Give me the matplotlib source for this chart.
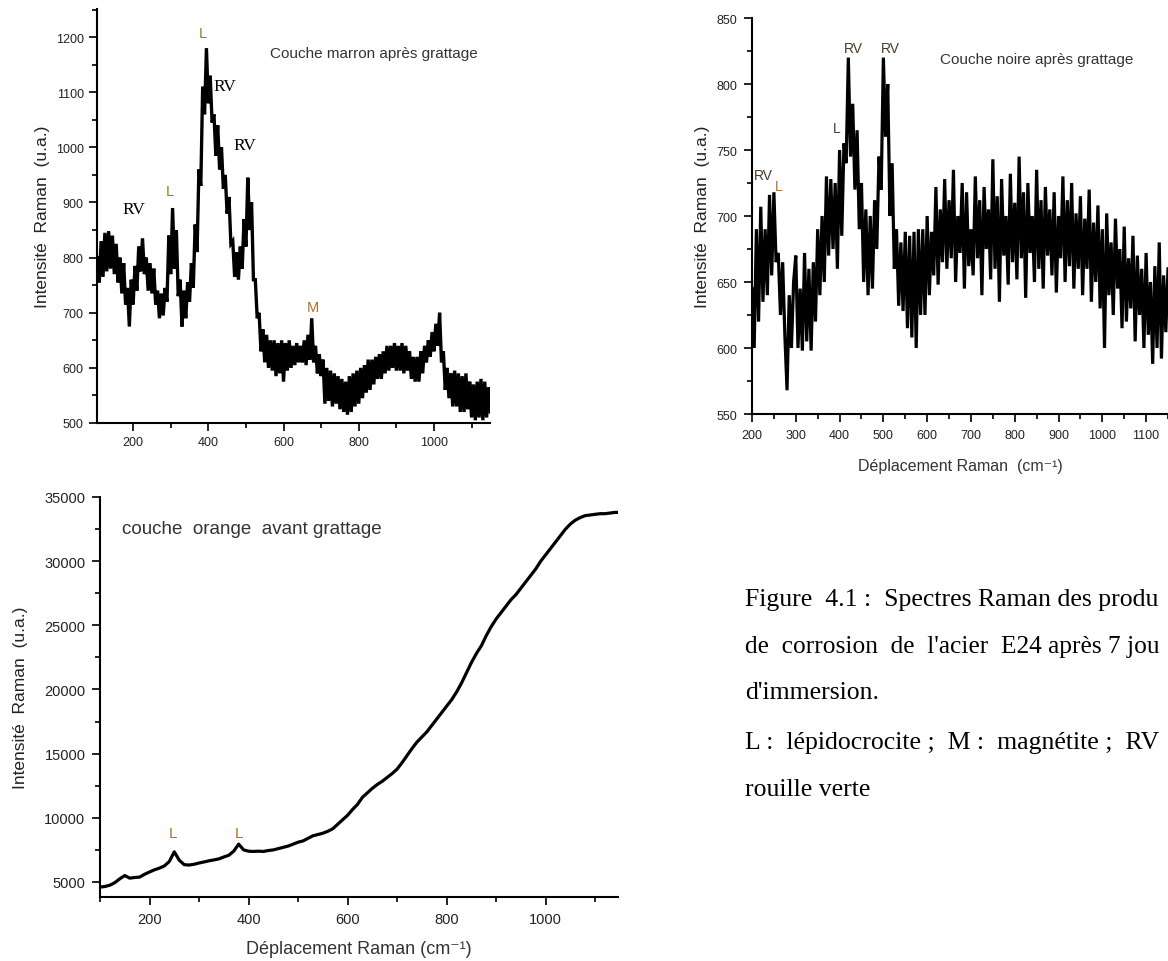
import numpy as np
import matplotlib
matplotlib.use("Agg")
import matplotlib.pyplot as plt
from matplotlib.ticker import MultipleLocator

plt.rcParams['font.family'] = ['Liberation Sans', 'DejaVu Sans']

# ---------------- data ----------------
# Panel A: Couche marron après grattage (x = 105..1150 step 5)
shift_a = np.arange(105, 1151, 5)
int_a = [
    800, 755, 830, 765, 845, 775, 848, 780, 840, 770,
    825, 755, 800, 735, 790, 715, 745, 675, 760, 715,
    785, 740, 820, 775, 835, 770, 800, 740, 790, 735,
    780, 715, 740, 690, 735, 695, 745, 720, 840, 770,
    890, 780, 850, 730, 760, 675, 740, 690, 755, 720,
    790, 745, 860, 810, 960, 930, 1110, 1060, 1180, 1080,
    1130, 1045, 1060, 985, 1040, 960, 1000, 925, 950, 880,
    910, 825, 830, 765, 810, 760, 820, 780, 870, 820,
    945, 850, 900, 760, 760, 690, 700, 630, 670, 610,
    660, 600, 650, 595, 650, 585, 645, 590, 650, 575,
    645, 595, 650, 600, 640, 605, 645, 610, 640, 610,
    650, 605, 660, 615, 690, 610, 640, 590, 625, 585,
    615, 535, 600, 540, 595, 530, 590, 535, 585, 525,
    580, 520, 575, 515, 585, 520, 590, 530, 595, 535,
    600, 545, 605, 555, 615, 560, 615, 570, 620, 580,
    625, 580, 630, 590, 640, 595, 640, 600, 645, 595,
    640, 595, 645, 590, 640, 595, 630, 580, 620, 575,
    620, 575, 630, 590, 640, 610, 650, 620, 665, 630,
    680, 640, 700, 610, 630, 560, 600, 545, 590, 530,
    595, 530, 590, 520, 585, 520, 590, 525, 575, 510,
    570, 505, 575, 510, 580, 505, 575, 510, 565, 520,
]

# Panel B: Couche noire après grattage (x = 200..1150 step 5)
shift_b = np.arange(200, 1151, 5)
int_b = [
    645, 600, 690, 620, 707, 635, 690, 640, 716, 655,
    718, 665, 672, 625, 665, 610, 568, 640, 600, 650,
    670, 600, 645, 598, 672, 605, 660, 598, 665, 620,
    690, 640, 700, 650, 730, 670, 728, 675, 725, 660,
    750, 685, 755, 740, 820, 745, 785, 720, 765, 690,
    725, 650, 705, 640, 700, 645, 712, 675, 745, 720,
    820, 760, 800, 700, 740, 660, 690, 632, 680, 628,
    688, 615, 685, 608, 688, 600, 690, 625, 690, 625,
    700, 640, 688, 655, 722, 648, 705, 665, 728, 660,
    712, 668, 735, 650, 700, 672, 725, 645, 718, 662,
    690, 655, 730, 668, 712, 640, 722, 675, 705, 652,
    743, 660, 715, 635, 728, 670, 700, 648, 732, 665,
    710, 652, 745, 668, 718, 638, 725, 672, 700, 650,
    735, 660, 712, 645, 722, 670, 705, 655, 718, 642,
    700, 668, 730, 650, 712, 662, 725, 645, 702, 660,
    715, 640, 698, 660, 720, 635, 695, 650, 708, 630,
    690, 600, 702, 640, 680, 625, 698, 645, 675, 615,
    692, 620, 668, 630, 685, 605, 670, 625, 660, 600,
    672, 610, 650, 588, 662, 600, 680, 592, 655, 612,
    660,
]

# Panel C: couche orange avant grattage (x = 100..1150 step 10)
shift_c = np.arange(100, 1151, 10)
int_c = [
    4600, 4650, 4750, 4950, 5250, 5500, 5300, 5350, 5380, 5600,
    5780, 5950, 6080, 6250, 6600, 7350, 6700, 6350, 6320, 6380,
    6480, 6560, 6650, 6720, 6800, 6950, 7080, 7400, 7950, 7500,
    7400, 7380, 7400, 7380, 7450, 7500, 7600, 7700, 7800, 7950,
    8100, 8200, 8400, 8600, 8700, 8800, 8950, 9150, 9500, 9850,
    10200, 10650, 11050, 11600, 11950, 12300, 12600, 12850, 13150, 13450,
    13800, 14300, 14850, 15400, 15900, 16300, 16700, 17200, 17700, 18200,
    18700, 19200, 19800, 20500, 21300, 22100, 22800, 23400, 24200, 24900,
    25500, 26000, 26500, 27000, 27400, 27900, 28400, 28900, 29400, 30000,
    30500, 31000, 31500, 32000, 32500, 32900, 33200, 33400, 33550, 33600,
    33650, 33700, 33700, 33750, 33800, 33800,
]

# annotations: (text, x, y)
labels_a_orig = [("L", 386, 1207), ("L", 298, 920), ("M", 679, 710)]
labels_a_rv = [("RV", 445, 1111), ("RV", 498, 1004), ("RV", 203, 888)]
labels_b = [("RV", 431, 827), ("RV", 517, 827), ("L", 394, 767), ("RV", 227, 731)]
labels_b_sub = [("L", 262, 723)]
labels_c = [("L", 247, 8830), ("L", 381, 8830)]

# caption as visible in the reference (the page is cut at the right edge)
caption = [
    "Figure  4.1 :  Spectres Raman des produ",
    "de  corrosion  de  l'acier  E24 après 7 jou",
    "d'immersion.",
    "L :  lépidocrocite ;  M :  magnétite ;  RV",
    "rouille verte",
]

# ---------------- figure ----------------
W, H = 1168, 962
fig = plt.figure(figsize=(W / 100, H / 100), dpi=100)


def ax_px(x0, y0, x1, y1):
    return fig.add_axes([x0 / W, 1 - y1 / H, (x1 - x0) / W, (y1 - y0) / H])


def style(ax, tsize, pad):
    for s in ("top", "right"):
        ax.spines[s].set_visible(False)
    for s in ("left", "bottom"):
        ax.spines[s].set_linewidth(1.5)
    ax.tick_params(which="major", direction="out", length=5.5, width=1.3,
                   labelsize=tsize, pad=pad, colors="#111111", labelcolor="#222222")
    ax.tick_params(which="minor", direction="out", length=3.5, width=1.3, colors="#111111")


lab_col = "#b0702a"

# Panel A
axA = ax_px(97, 10, 490, 424)
axA.plot(shift_a, int_a, color="black", lw=2.4, solid_joinstyle="miter")
axA.set_xlim(104, 1149)
axA.set_ylim(500, 1251)
axA.xaxis.set_major_locator(MultipleLocator(200))
axA.xaxis.set_minor_locator(MultipleLocator(100))
axA.yaxis.set_major_locator(MultipleLocator(100))
axA.yaxis.set_minor_locator(MultipleLocator(50))
style(axA, 9, 4)
axA.set_ylabel("Intensité  Raman  (u.a.)", fontsize=12.5, color="#222222", va="center")
axA.yaxis.set_label_coords((43 - 97) / 393, 0.5)
axA.text(564, 1171, "Couche marron après grattage", fontsize=11, color="#333333",
         ha="left", va="center")
for t, x, y in labels_a_orig:
    axA.text(x, y, t, fontsize=10.5, color=lab_col, ha="center", va="center")
for t, x, y in labels_a_rv:
    axA.text(x, y, t, fontsize=12.5, color="black", ha="center", va="center",
             family="Liberation Serif")

# Panel B
axB = ax_px(752, 19, 1168, 415)
axB.plot(shift_b, int_b, color="black", lw=2.3, solid_joinstyle="miter")
axB.set_xlim(200, 1150)
axB.set_ylim(550, 850)
axB.xaxis.set_major_locator(MultipleLocator(100))
axB.xaxis.set_minor_locator(MultipleLocator(50))
axB.yaxis.set_major_locator(MultipleLocator(50))
axB.yaxis.set_minor_locator(MultipleLocator(25))
style(axB, 9, 5)
axB.set_ylabel("Intensité  Raman  (u.a.)", fontsize=12.5, color="#222222", va="center")
axB.yaxis.set_label_coords((702 - 752) / 416, 0.5)
axB.set_xlabel("Déplacement Raman  (cm⁻¹)", fontsize=11.5, color="#333333", va="center")
axB.xaxis.set_label_coords(0.5, -(467 - 415) / 396)
axB.text(629, 819, "Couche noire après grattage", fontsize=11, color="#333333",
         ha="left", va="center")
for t, x, y in labels_b:
    axB.text(x, y, t, fontsize=10, color="#4a3a2a", ha="center", va="center")
for t, x, y in labels_b_sub:
    axB.text(x, y, t, fontsize=10, color=lab_col, ha="center", va="center")

# Panel C
axC = ax_px(100, 498, 618, 898)
axC.plot(shift_c, int_c, color="black", lw=2.3)
axC.set_xlim(100, 1146)
axC.set_ylim(3830, 35000)
axC.xaxis.set_major_locator(MultipleLocator(200))
axC.xaxis.set_minor_locator(MultipleLocator(100))
axC.yaxis.set_major_locator(MultipleLocator(5000))
axC.yaxis.set_minor_locator(MultipleLocator(2500))
style(axC, 10.5, 5)
axC.set_ylabel("Intensité  Raman  (u.a.)", fontsize=12.5, color="#222222", va="center")
axC.yaxis.set_label_coords((20 - 100) / 518, 0.5)
axC.set_xlabel("Déplacement Raman (cm⁻¹)", fontsize=13, color="#333333", va="center")
axC.xaxis.set_label_coords(0.5, -(950 - 898) / 400)
axC.text(144, 32580, "couche  orange  avant grattage", fontsize=13.5, color="#333333",
         ha="left", va="center")
for t, x, y in labels_c:
    axC.text(x, y, t, fontsize=11, color=lab_col, ha="center", va="center")

# Caption (shrink a line slightly if it would run past the right edge)
fig.canvas.draw()
renderer = fig.canvas.get_renderer()
for line, yp in zip(caption, [600, 647, 693, 743, 790]):
    size = 18.5
    t = fig.text(745 / W, 1 - yp / H, line, fontsize=size, family="Liberation Serif",
                 color="black", ha="left", va="center")
    while t.get_window_extent(renderer).x1 > W - 3 and size > 12:
        size -= 0.25
        t.set_fontsize(size)

fig.savefig("out.png", dpi=100)
